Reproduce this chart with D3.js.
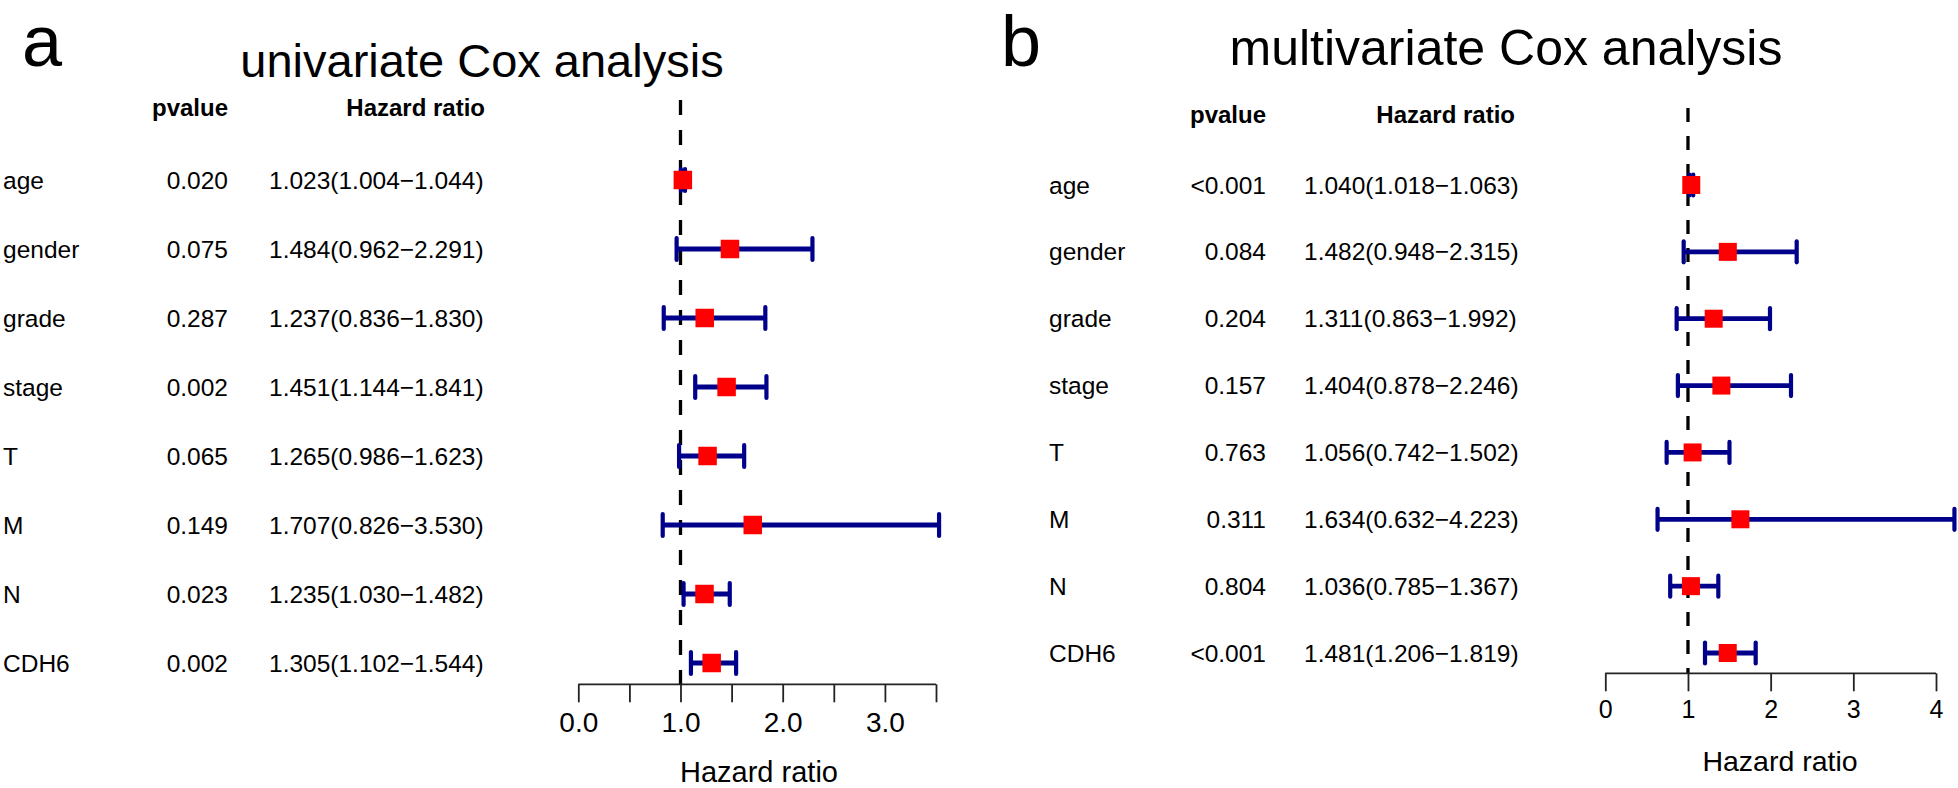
<!DOCTYPE html>
<html>
<head>
<meta charset="utf-8">
<script src="https://cdn.jsdelivr.net/npm/d3@7"></script>
<style>
  html, body { margin: 0; padding: 0; background: #fff; }
  svg { display: block; }
  text { font-family: "Liberation Sans", Arial, sans-serif; fill: #000; }
</style>
</head>
<body>
<svg id="chart" width="1958" height="788"></svg>
<script>
// ---------- data ----------
const variables = ["age", "gender", "grade", "stage", "T", "M", "N", "CDH6"];

const uniPvalue = ["0.020", "0.075", "0.287", "0.002", "0.065", "0.149", "0.023", "0.002"];
const uniHR     = [1.023, 1.484, 1.237, 1.451, 1.265, 1.707, 1.235, 1.305];
const uniLow    = [1.004, 0.962, 0.836, 1.144, 0.986, 0.826, 1.030, 1.102];
const uniHigh   = [1.044, 2.291, 1.830, 1.841, 1.623, 3.530, 1.482, 1.544];

const multiPvalue = ["<0.001", "0.084", "0.204", "0.157", "0.763", "0.311", "0.804", "<0.001"];
const multiHR     = [1.040, 1.482, 1.311, 1.404, 1.056, 1.634, 1.036, 1.481];
const multiLow    = [1.018, 0.948, 0.863, 0.878, 0.742, 0.632, 0.785, 1.206];
const multiHigh   = [1.063, 2.315, 1.992, 2.246, 1.502, 4.223, 1.367, 1.819];

const uniTicks       = [0, 0.5, 1, 1.5, 2, 2.5, 3, 3.5];
const uniTickLabels  = ["0.0", "", "1.0", "", "2.0", "", "3.0", ""];
const multiTicks      = [0, 1, 2, 3, 4];
const multiTickLabels = ["0", "1", "2", "3", "4"];

const panelLetters = ["a", "b"];
const panelTitles = ["univariate Cox analysis", "multivariate Cox analysis"];
const headerLabels = ["pvalue", "Hazard ratio"];
const xAxisTitle = "Hazard ratio";

// ---------- drawing ----------
const svg = d3.select("#chart");
const f3 = d3.format(".3f");
const hrText = (h, l, u) => `${f3(h)}(${f3(l)}\u2212${f3(u)})`;

function drawPanel(cfg) {
  const g = svg.append("g");
  const rows = variables.map((v, i) => ({
    name: v, p: cfg.p[i], hr: cfg.hr[i], lo: cfg.lo[i], hi: cfg.hi[i]
  }));

  const x = d3.scaleLinear().domain(cfg.xDomain).range(cfg.xRange);
  const y = d3.scalePoint().domain(variables).range(cfg.yRange);

  // letter + title
  g.append("text").attr("x", cfg.letterX).attr("y", cfg.letterY)
    .attr("font-size", 72).text(cfg.letter);
  g.append("text").attr("x", cfg.titleX).attr("y", cfg.titleY)
    .attr("text-anchor", "middle").attr("font-size", cfg.titleFont).text(cfg.title);

  // headers
  g.append("text").attr("x", cfg.pX).attr("y", cfg.headerY)
    .attr("text-anchor", "end").attr("font-weight", "bold").attr("font-size", 24)
    .text(headerLabels[0]);
  g.append("text").attr("x", cfg.hrHeaderX).attr("y", cfg.headerY)
    .attr("text-anchor", "end").attr("font-weight", "bold").attr("font-size", 24)
    .text(headerLabels[1]);

  // table text
  const fs = 24.5;
  const tr = g.selectAll("g.row").data(rows).join("g").attr("class", "row");
  tr.append("text").attr("x", cfg.nameX).attr("y", d => y(d.name))
    .attr("dy", "0.35em").attr("font-size", fs).text(d => d.name);
  tr.append("text").attr("x", cfg.pX).attr("y", d => y(d.name))
    .attr("dy", "0.35em").attr("text-anchor", "end").attr("font-size", fs).text(d => d.p);
  tr.append("text").attr("x", cfg.hrX).attr("y", d => y(d.name))
    .attr("dy", "0.35em").attr("font-size", fs).text(d => hrText(d.hr, d.lo, d.hi));

  // reference dashed line at HR = 1
  g.append("line")
    .attr("x1", x(1)).attr("x2", x(1))
    .attr("y1", cfg.dashTop).attr("y2", cfg.axisY)
    .attr("stroke", "#000").attr("stroke-width", 3.3)
    .attr("stroke-dasharray", cfg.dash);

  // axis
  const axis = d3.axisBottom(x)
    .tickValues(cfg.ticks)
    .tickFormat((d, i) => cfg.tickLabels[i])
    .tickSize(18).tickPadding(cfg.tickPad);
  const ag = g.append("g").attr("transform", `translate(0,${cfg.axisY})`).call(axis);
  ag.select(".domain").attr("stroke", "#222").attr("stroke-width", 1.8)
    .attr("d", `M${x(cfg.ticks[0])},0H${x(cfg.ticks[cfg.ticks.length - 1])}`);
  ag.selectAll(".tick line").attr("stroke", "#222").attr("stroke-width", 1.8);
  ag.selectAll(".tick text").attr("font-size", cfg.tickFont)
    .attr("font-family", "Liberation Sans, Arial, sans-serif").attr("fill", "#000");

  g.append("text").attr("x", cfg.xlabX).attr("y", cfg.xlabY)
    .attr("text-anchor", "middle").attr("font-size", cfg.xlabFont).text(xAxisTitle);

  // error bars
  const col = "#00008B";
  const eb = g.selectAll("g.eb").data(rows).join("g").attr("class", "eb");
  eb.append("line")
    .attr("x1", d => x(d.lo)).attr("x2", d => x(d.hi))
    .attr("y1", d => y(d.name)).attr("y2", d => y(d.name))
    .attr("stroke", col).attr("stroke-width", 4.8);
  eb.append("line")
    .attr("x1", d => x(d.lo)).attr("x2", d => x(d.lo))
    .attr("y1", d => y(d.name) - cfg.cap / 2).attr("y2", d => y(d.name) + cfg.cap / 2)
    .attr("stroke", col).attr("stroke-width", 4.2).attr("stroke-linecap", "round");
  eb.append("line")
    .attr("x1", d => x(d.hi)).attr("x2", d => x(d.hi))
    .attr("y1", d => y(d.name) - cfg.cap / 2).attr("y2", d => y(d.name) + cfg.cap / 2)
    .attr("stroke", col).attr("stroke-width", 4.2).attr("stroke-linecap", "round");

  // point estimates
  g.selectAll("rect.pt").data(rows).join("rect").attr("class", "pt")
    .attr("x", d => x(d.hr) - cfg.sq / 2).attr("y", d => y(d.name) - cfg.sq / 2)
    .attr("width", cfg.sq).attr("height", cfg.sq).attr("fill", "#FF0000");
}

drawPanel({
  letter: panelLetters[0], title: panelTitles[0],
  p: uniPvalue, hr: uniHR, lo: uniLow, hi: uniHigh,
  ticks: uniTicks, tickLabels: uniTickLabels,
  xDomain: [0, 3.5], xRange: [578.3, 936],
  yRange: [180, 663],
  letterX: 22, letterY: 66, titleX: 482, titleY: 77, titleFont: 47,
  headerY: 116, pX: 228, hrHeaderX: 485, nameX: 3, hrX: 269,
  dashTop: 100, dash: "15,15", axisY: 684.3,
  tickPad: 9.5, tickFont: 28,
  xlabX: 759, xlabY: 782, xlabFont: 29,
  cap: 22, sq: 18.5
});

drawPanel({
  letter: panelLetters[1], title: panelTitles[1],
  p: multiPvalue, hr: multiHR, lo: multiLow, hi: multiHigh,
  ticks: multiTicks, tickLabels: multiTickLabels,
  xDomain: [0, 4], xRange: [1605.3, 1936],
  yRange: [185, 653],
  letterX: 1001, letterY: 66, titleX: 1506, titleY: 65, titleFont: 50,
  headerY: 123, pX: 1266, hrHeaderX: 1515, nameX: 1049, hrX: 1304,
  dashTop: 108, dash: "14,14", axisY: 673.3,
  tickPad: 8.8, tickFont: 25,
  xlabX: 1780, xlabY: 771, xlabFont: 28.5,
  cap: 21, sq: 18
});
</script>
</body>
</html>
